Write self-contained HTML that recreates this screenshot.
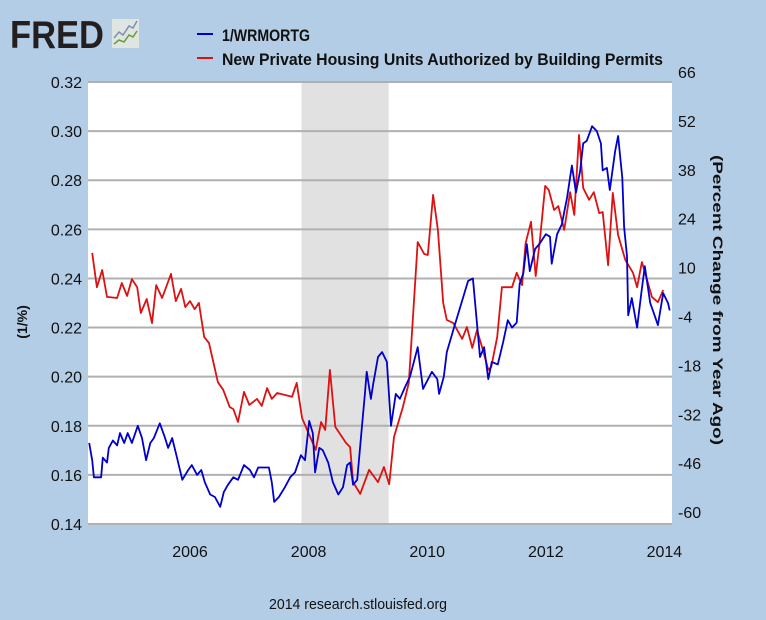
<!DOCTYPE html>
<html><head><meta charset="utf-8"><style>
body{margin:0;background:#b4cde6;}
svg{display:block;font-family:"Liberation Sans",sans-serif;}
</style></head><body>
<svg id="chart" width="766" height="620" viewBox="0 0 766 620" xmlns="http://www.w3.org/2000/svg">
<rect x="0" y="0" width="766" height="620" fill="#b4cde6"/>
<g>
<text x="10" y="48" font-size="39" font-weight="bold" fill="#231f20" textLength="94" lengthAdjust="spacingAndGlyphs">FRED</text>
<rect x="112" y="19" width="27" height="29" fill="#dfe5e0"/>
<polyline points="114,38 119,32 123,35 129,26 133,28 137,21" fill="none" stroke="#7d8fb4" stroke-width="1.5"/>
<polyline points="114,44 119,40 124,42 129,35 133,37 137,31" fill="none" stroke="#6a9a3a" stroke-width="1.5"/>
</g>
<g>
<line x1="197" y1="34" x2="213" y2="34" stroke="#0000cc" stroke-width="2"/>
<text x="222" y="41" font-size="17" font-weight="bold" fill="#111" textLength="88" lengthAdjust="spacingAndGlyphs">1/WRMORTG</text>
<line x1="197" y1="58" x2="213" y2="58" stroke="#dd1111" stroke-width="2"/>
<text x="222" y="65" font-size="17" font-weight="bold" fill="#111" textLength="441" lengthAdjust="spacingAndGlyphs">New Private Housing Units Authorized by Building Permits</text>
</g>
<rect x="88" y="82" width="584" height="442" fill="#ffffff"/>
<g id="rec"></g><g id="grid"></g><g id="axes"></g><g id="series"></g>
<text transform="translate(27,322) rotate(-90)" text-anchor="middle" font-size="14" font-weight="bold" fill="#111">(1/%)</text>
<text transform="translate(713,300) rotate(90)" text-anchor="middle" font-size="14" font-weight="bold" fill="#111" textLength="290" lengthAdjust="spacingAndGlyphs">(Percent Change from Year Ago)</text>
<text x="358" y="609" text-anchor="middle" font-size="15" fill="#111" textLength="178" lengthAdjust="spacingAndGlyphs">2014 research.stlouisfed.org</text>
</svg>
<script>
const leftTicks=[0.14,0.16,0.18,0.20,0.22,0.24,0.26,0.28,0.30,0.32];
const rightTicks=[-60,-46,-32,-18,-4,10,24,38,52,66];
const xTicks=[2006,2008,2010,2012,2014];
const recession=[2007.88,2009.35];
const blueDates=[2004.30,2004.35,2004.38,2004.45,2004.50,2004.53,2004.60,2004.63,2004.70,2004.77,2004.82,2004.89,2004.95,2005.02,2005.12,2005.19,2005.26,2005.33,2005.39,2005.49,2005.58,2005.63,2005.70,2005.78,2005.87,2005.97,2006.03,2006.12,2006.19,2006.25,2006.34,2006.42,2006.51,2006.57,2006.64,2006.73,2006.81,2006.91,2007.01,2007.08,2007.15,2007.26,2007.33,2007.38,2007.42,2007.50,2007.60,2007.69,2007.77,2007.87,2007.94,2008.01,2008.07,2008.11,2008.18,2008.24,2008.33,2008.41,2008.50,2008.58,2008.65,2008.70,2008.75,2008.82,2008.90,2008.95,2008.98,2009.05,2009.09,2009.17,2009.24,2009.32,2009.39,2009.47,2009.54,2009.63,2009.71,2009.84,2009.93,2010.08,2010.17,2010.20,2010.28,2010.33,2010.44,2010.59,2010.69,2010.77,2010.82,2010.89,2010.96,2011.03,2011.09,2011.19,2011.28,2011.36,2011.43,2011.51,2011.56,2011.62,2011.68,2011.73,2011.82,2011.89,2012.00,2012.07,2012.10,2012.19,2012.27,2012.36,2012.44,2012.51,2012.58,2012.63,2012.69,2012.78,2012.86,2012.93,2012.96,2013.03,2013.08,2013.17,2013.22,2013.29,2013.32,2013.37,2013.39,2013.45,2013.54,2013.61,2013.67,2013.76,2013.82,2013.89,2013.98,2014.06,2014.09];
const blueValues=[0.173,0.166,0.159,0.159,0.159,0.167,0.165,0.171,0.174,0.172,0.177,0.173,0.177,0.173,0.180,0.175,0.166,0.173,0.175,0.181,0.175,0.171,0.175,0.167,0.158,0.162,0.164,0.160,0.162,0.157,0.152,0.151,0.147,0.153,0.156,0.159,0.158,0.164,0.162,0.159,0.163,0.163,0.163,0.157,0.149,0.151,0.155,0.159,0.161,0.168,0.166,0.182,0.177,0.161,0.171,0.170,0.165,0.157,0.152,0.155,0.164,0.165,0.156,0.158,0.180,0.193,0.202,0.191,0.197,0.208,0.210,0.206,0.180,0.193,0.191,0.196,0.200,0.212,0.195,0.202,0.199,0.193,0.200,0.210,0.219,0.231,0.239,0.240,0.227,0.208,0.212,0.199,0.206,0.205,0.214,0.223,0.220,0.222,0.238,0.242,0.254,0.243,0.252,0.254,0.258,0.257,0.246,0.258,0.262,0.273,0.286,0.275,0.284,0.295,0.296,0.302,0.300,0.295,0.284,0.285,0.276,0.292,0.298,0.281,0.261,0.249,0.225,0.232,0.220,0.234,0.245,0.230,0.226,0.221,0.234,0.230,0.227];
const redDates=[2004.35,2004.43,2004.52,2004.60,2004.77,2004.85,2004.94,2005.02,2005.11,2005.17,2005.27,2005.36,2005.43,2005.53,2005.68,2005.76,2005.85,2005.92,2006.00,2006.08,2006.15,2006.24,2006.32,2006.47,2006.56,2006.67,2006.73,2006.81,2006.91,2007.00,2007.13,2007.21,2007.30,2007.38,2007.47,2007.72,2007.80,2007.89,2008.12,2008.21,2008.28,2008.36,2008.45,2008.63,2008.70,2008.75,2008.87,2009.02,2009.17,2009.27,2009.36,2009.44,2009.59,2009.69,2009.84,2009.95,2010.01,2010.10,2010.18,2010.27,2010.33,2010.44,2010.59,2010.67,2010.76,2010.84,2010.94,2011.03,2011.08,2011.18,2011.26,2011.43,2011.51,2011.60,2011.66,2011.75,2011.83,2011.90,2011.99,2012.05,2012.14,2012.21,2012.31,2012.41,2012.48,2012.56,2012.63,2012.73,2012.81,2012.90,2012.96,2013.05,2013.13,2013.22,2013.34,2013.47,2013.54,2013.62,2013.71,2013.79,2013.89,2013.98];
const redValues=[14.2,4.4,9.3,1.6,1.3,5.6,1.9,6.7,4.4,-3.0,1.0,-5.9,5.0,1.3,8.2,0.4,3.9,-1.3,0.4,-1.9,-0.1,-9.9,-11.6,-22.8,-25.0,-29.9,-30.5,-34.2,-25.6,-29.3,-27.6,-29.6,-24.5,-27.6,-25.9,-27.0,-23.0,-33.1,-42.2,-34.2,-36.5,-19.3,-35.6,-40.2,-41.4,-51.4,-54.8,-47.9,-51.4,-47.1,-52.0,-38.5,-29.9,-23.0,17.3,13.9,13.6,30.8,20.8,-0.1,-5.0,-5.9,-10.4,-7.0,-13.0,-7.9,-13.6,-19.3,-18.5,-9.9,4.4,4.4,8.5,5.0,17.0,23.1,7.6,17.9,33.4,32.2,26.5,27.6,20.8,31.6,25.1,48.0,32.8,29.4,31.6,25.6,25.9,10.7,31.4,19.3,12.2,8.5,4.4,11.6,6.4,1.6,0.1,3.6];

const NS='http://www.w3.org/2000/svg';
const L=88,R=672,T=82,B=524;
const xs=d=>190+(d-2006)*59.3;
const yl=v=>B-(v-0.14)/(0.32-0.14)*(B-T);
const yr=v=>72+(66-v)/14*48.9;
function mk(tag,attrs,parent){const e=document.createElementNS(NS,tag);for(const k in attrs)e.setAttribute(k,attrs[k]);parent.appendChild(e);return e;}
const gRec=document.getElementById('rec'),gGrid=document.getElementById('grid'),gAx=document.getElementById('axes'),gS=document.getElementById('series');

const rr=mk('rect',{x:xs(recession[0]),y:T,width:xs(recession[1])-xs(recession[0]),height:B-T,fill:'#e1e1e1'},gRec);



leftTicks.forEach(v=>{
  const ln=mk('line',{x1:L,x2:R,y1:yl(v),y2:yl(v),stroke:'#b0b0b0','stroke-width':2},gGrid);
  
  
  const t=mk('text',{x:82,y:yl(v)+6,'text-anchor':'end','font-size':16,fill:'#111'},gAx);
  t.textContent=v.toFixed(2);
  
  
});
rightTicks.forEach(v=>{
  const t=mk('text',{x:678,y:yr(v)+6,'font-size':16,fill:'#111'},gAx);
  t.textContent=String(v);
  
  
});
xTicks.forEach(v=>{
  const t=mk('text',{x:xs(v),y:557,'text-anchor':'middle','font-size':16,fill:'#111'},gAx);
  t.textContent=String(v);
  
  
});

const redPts=redDates.map((d,i)=>xs(d).toFixed(1)+','+yr(redValues[i]).toFixed(1)).join(' ');
const rl=mk('polyline',{points:redPts,fill:'none',stroke:'#dd1111','stroke-width':1.8,'stroke-linejoin':'round'},gS);


const bluePts=blueDates.map((d,i)=>xs(d).toFixed(1)+','+yl(blueValues[i]).toFixed(1)).join(' ');
const bl=mk('polyline',{points:bluePts,fill:'none',stroke:'#0000cc','stroke-width':1.8,'stroke-linejoin':'round'},gS);


</script>
</body></html>
